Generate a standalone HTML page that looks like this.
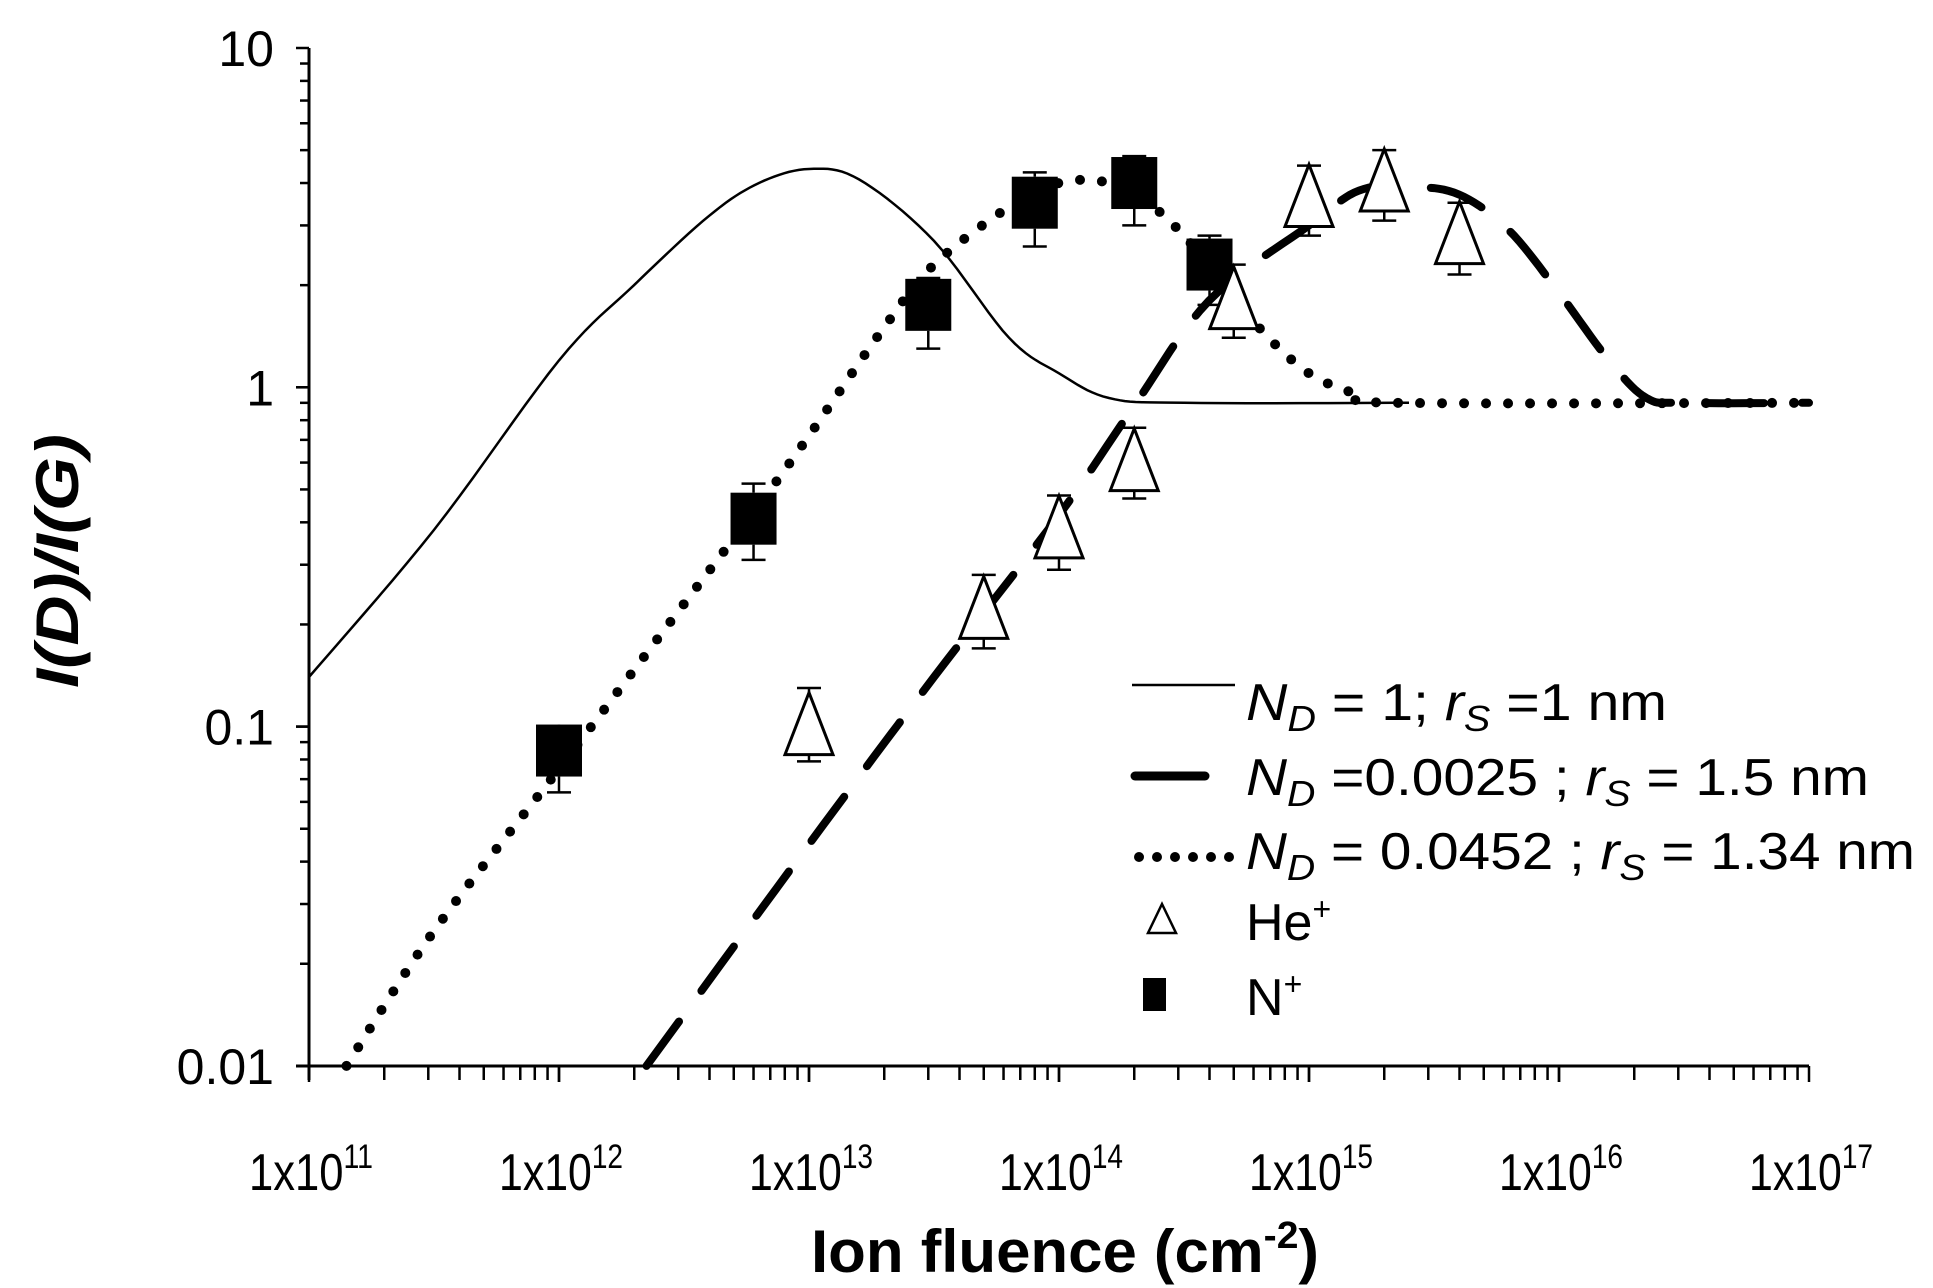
<!DOCTYPE html>
<html><head><meta charset="utf-8"><style>
html,body{margin:0;padding:0;background:#fff;}
svg{display:block;}
text{font-family:"Liberation Sans",sans-serif;fill:#000;}
</style></head><body>
<svg id="s" width="1933" height="1288" viewBox="0 0 1933 1288" xmlns="http://www.w3.org/2000/svg">
<g id="g"></g>
<line x1="1132" y1="685" x2="1235" y2="685" stroke="#000" stroke-width="2.5"/>
<line x1="1135" y1="776" x2="1205" y2="776" stroke="#000" stroke-width="9" stroke-linecap="round"/>
<g fill="#000"><circle cx="1139" cy="857" r="5"/><circle cx="1157" cy="857" r="5"/><circle cx="1175" cy="857" r="5"/><circle cx="1193" cy="857" r="5"/><circle cx="1211" cy="857" r="5"/><circle cx="1229" cy="857" r="5"/></g>
<polygon points="1162,904 1176,933 1148,933" fill="#fff" stroke="#000" stroke-width="2.5"/>
<rect x="1143" y="978" width="23" height="33" fill="#000"/>
<g font-size="52">
<text x="1246" y="720" textLength="421" lengthAdjust="spacingAndGlyphs"><tspan font-style="italic">N</tspan><tspan font-style="italic" font-size="36" dy="11">D</tspan><tspan dy="-11"> = 1; </tspan><tspan font-style="italic">r</tspan><tspan font-style="italic" font-size="36" dy="11">S</tspan><tspan dy="-11"> =1 nm</tspan></text>
<text x="1246" y="795" textLength="623" lengthAdjust="spacingAndGlyphs"><tspan font-style="italic">N</tspan><tspan font-style="italic" font-size="36" dy="11">D</tspan><tspan dy="-11"> =0.0025 ; </tspan><tspan font-style="italic">r</tspan><tspan font-style="italic" font-size="36" dy="11">S</tspan><tspan dy="-11"> = 1.5 nm</tspan></text>
<text x="1246" y="869" textLength="669" lengthAdjust="spacingAndGlyphs"><tspan font-style="italic">N</tspan><tspan font-style="italic" font-size="36" dy="11">D</tspan><tspan dy="-11"> = 0.0452 ; </tspan><tspan font-style="italic">r</tspan><tspan font-style="italic" font-size="36" dy="11">S</tspan><tspan dy="-11"> = 1.34 nm</tspan></text>
<text x="1246" y="940">He<tspan font-size="32" dy="-20">+</tspan></text>
<text x="1246" y="1015">N<tspan font-size="32" dy="-20">+</tspan></text>
</g>
<text x="0" y="0" font-size="60" font-weight="bold" font-style="italic" text-anchor="middle" textLength="254" lengthAdjust="spacingAndGlyphs" transform="translate(78,561) rotate(-90)">I(D)/I(G)</text>
<text x="811" y="1272" font-size="60" font-weight="bold" textLength="508" lengthAdjust="spacingAndGlyphs">Ion fluence (cm<tspan font-size="38" dy="-24">-2</tspan><tspan dy="24">)</tspan></text>
</svg>
<script>
var NS="http://www.w3.org/2000/svg",g=document.getElementById('g');
function X(l){return 309+(l-11)*250;}
function Y(v){return 48+(1-Math.log10(v))*339.3;}
function el(t,a,p){var e=document.createElementNS(NS,t);for(var k in a)e.setAttribute(k,a[k]);(p||g).appendChild(e);return e;}
el('line',{x1:309,y1:48,x2:309,y2:1080,stroke:'#000','stroke-width':3});
el('line',{x1:296,y1:1066,x2:1809,y2:1066,stroke:'#000','stroke-width':3});
for(var d=-2;d<1;d++){for(var m=1;m<=10;m++){var v=m*Math.pow(10,d);var y=Y(v);
 el('line',{x1:(m==1||m==10)?296:300,y1:y,x2:309,y2:y,stroke:'#000','stroke-width':2.5});}}
for(var d=11;d<17;d++){for(var m=1;m<=10;m++){var x=X(d+Math.log10(m));
 el('line',{x1:x,y1:1066,x2:x,y2:(m==1||m==10)?1082:1080,stroke:'#000','stroke-width':2.5});}}
var yl=[[10,'10'],[1,'1'],[0.1,'0.1'],[0.01,'0.01']];
yl.forEach(function(a){var t=el('text',{x:274,y:Y(a[0])+18,'font-size':50,'text-anchor':'end'});t.textContent=a[1];});
for(var d=11;d<=17;d++){var t=el('text',{x:X(d)-60,y:1190,'font-size':52,textLength:124,lengthAdjust:'spacingAndGlyphs'});
 t.textContent='1x10';var s=el('tspan',{'font-size':34,dy:-22},t);s.textContent=d;}
function path(pts){var s='';for(var i=0;i<pts.length;i++)s+=(i?'L':'M')+X(pts[i][0]).toFixed(1)+','+Y(pts[i][1]).toFixed(1);return s;}
function smooth(pts){var out=[];for(var i=0;i<pts.length-1;i++){var p0=pts[Math.max(0,i-1)],p1=pts[i],p2=pts[i+1],p3=pts[Math.min(pts.length-1,i+2)];
 for(var t=0;t<1;t+=0.1){var t2=t*t,t3=t2*t;function c(a,b,cc,dd){return 0.5*(2*b+(-a+cc)*t+(2*a-5*b+4*cc-dd)*t2+(-a+3*b-3*cc+dd)*t3);}
 var lx=c(p0[0],p1[0],p2[0],p3[0]);var ly=c(Math.log10(p0[1]),Math.log10(p1[1]),Math.log10(p2[1]),Math.log10(p3[1]));out.push([lx,Math.pow(10,ly)]);}}
 out.push(pts[pts.length-1]);return out;}
var solid=[[11,0.14],[11.5,0.38],[12,1.2],[12.3,2.0],[12.6,3.2],[12.8,4.0],[13,4.4],[13.2,4.1],[13.5,2.7],[13.8,1.4],[14,1.1],[14.2,0.93],[14.5,0.9],[15.4,0.9]];
var dotted=[[11.15,0.01],[11.5,0.025],[12,0.075],[12.5,0.23],[12.8,0.45],[13,0.72],[13.3,1.5],[13.5,2.3],[13.8,3.4],[14,4.0],[14.2,4.0],[14.4,3.3],[14.6,2.3],[14.8,1.5],[15,1.1],[15.2,0.95],[15.35,0.9],[17,0.9]];
var dashed=[[12.35,0.01],[13,0.045],[13.5,0.14],[14,0.42],[14.3,0.88],[14.6,1.8],[15,3.0],[15.2,3.8],[15.4,3.9],[15.6,3.7],[15.8,2.9],[16,1.9],[16.2,1.2],[16.35,0.93],[16.5,0.9],[17,0.9]];
el('path',{d:path(smooth(solid)),fill:'none',stroke:'#000','stroke-width':2.5});
el('path',{d:path(smooth(dotted)),fill:'none',stroke:'#000','stroke-width':10,'stroke-linecap':'round','stroke-dasharray':'0 22'});
el('path',{d:path(smooth(dashed)),fill:'none',stroke:'#000','stroke-width':8,'stroke-linecap':'round','stroke-dasharray':'55 38'});
function eb(x,y,lo,hi,ht){var cx=X(Math.log10(x));
 el('line',{x1:cx,y1:Y(hi),x2:cx,y2:Y(y)-ht,stroke:'#000','stroke-width':2.5});
 el('line',{x1:cx,y1:Y(lo),x2:cx,y2:Y(y)+ht,stroke:'#000','stroke-width':2.5});
 el('line',{x1:cx-12,y1:Y(hi),x2:cx+12,y2:Y(hi),stroke:'#000','stroke-width':2.5});
 el('line',{x1:cx-12,y1:Y(lo),x2:cx+12,y2:Y(lo),stroke:'#000','stroke-width':2.5});}
var N=[[1e12,0.085,0.064,0.1],[6e12,0.41,0.31,0.52],[3e13,1.75,1.3,2.1],[8e13,3.5,2.6,4.3],[2e14,4.0,3.0,4.8],[4e14,2.3,1.75,2.8]];
N.forEach(function(p){eb(p[0],p[1],p[2],p[3],26);var cx=X(Math.log10(p[0])),cy=Y(p[1]);
 el('rect',{x:cx-23,y:cy-26,width:46,height:52,fill:'#000'});});
var H=[[1e13,0.1,0.079,0.13],[5e13,0.22,0.17,0.28],[1e14,0.38,0.29,0.48],[2e14,0.6,0.47,0.76],[5e14,1.8,1.4,2.3],[1e15,3.6,2.8,4.5],[2e15,4.0,3.1,5.0],[4e15,2.8,2.15,3.5]];
H.forEach(function(p){var cx=X(Math.log10(p[0])),cy=Y(p[1]);eb(p[0],p[1],p[2],p[3],28);
 el('polygon',{points:(cx)+','+(cy-34)+' '+(cx+24)+','+(cy+28)+' '+(cx-24)+','+(cy+28),fill:'#fff',stroke:'#000','stroke-width':3});});
</script>
</body></html>
